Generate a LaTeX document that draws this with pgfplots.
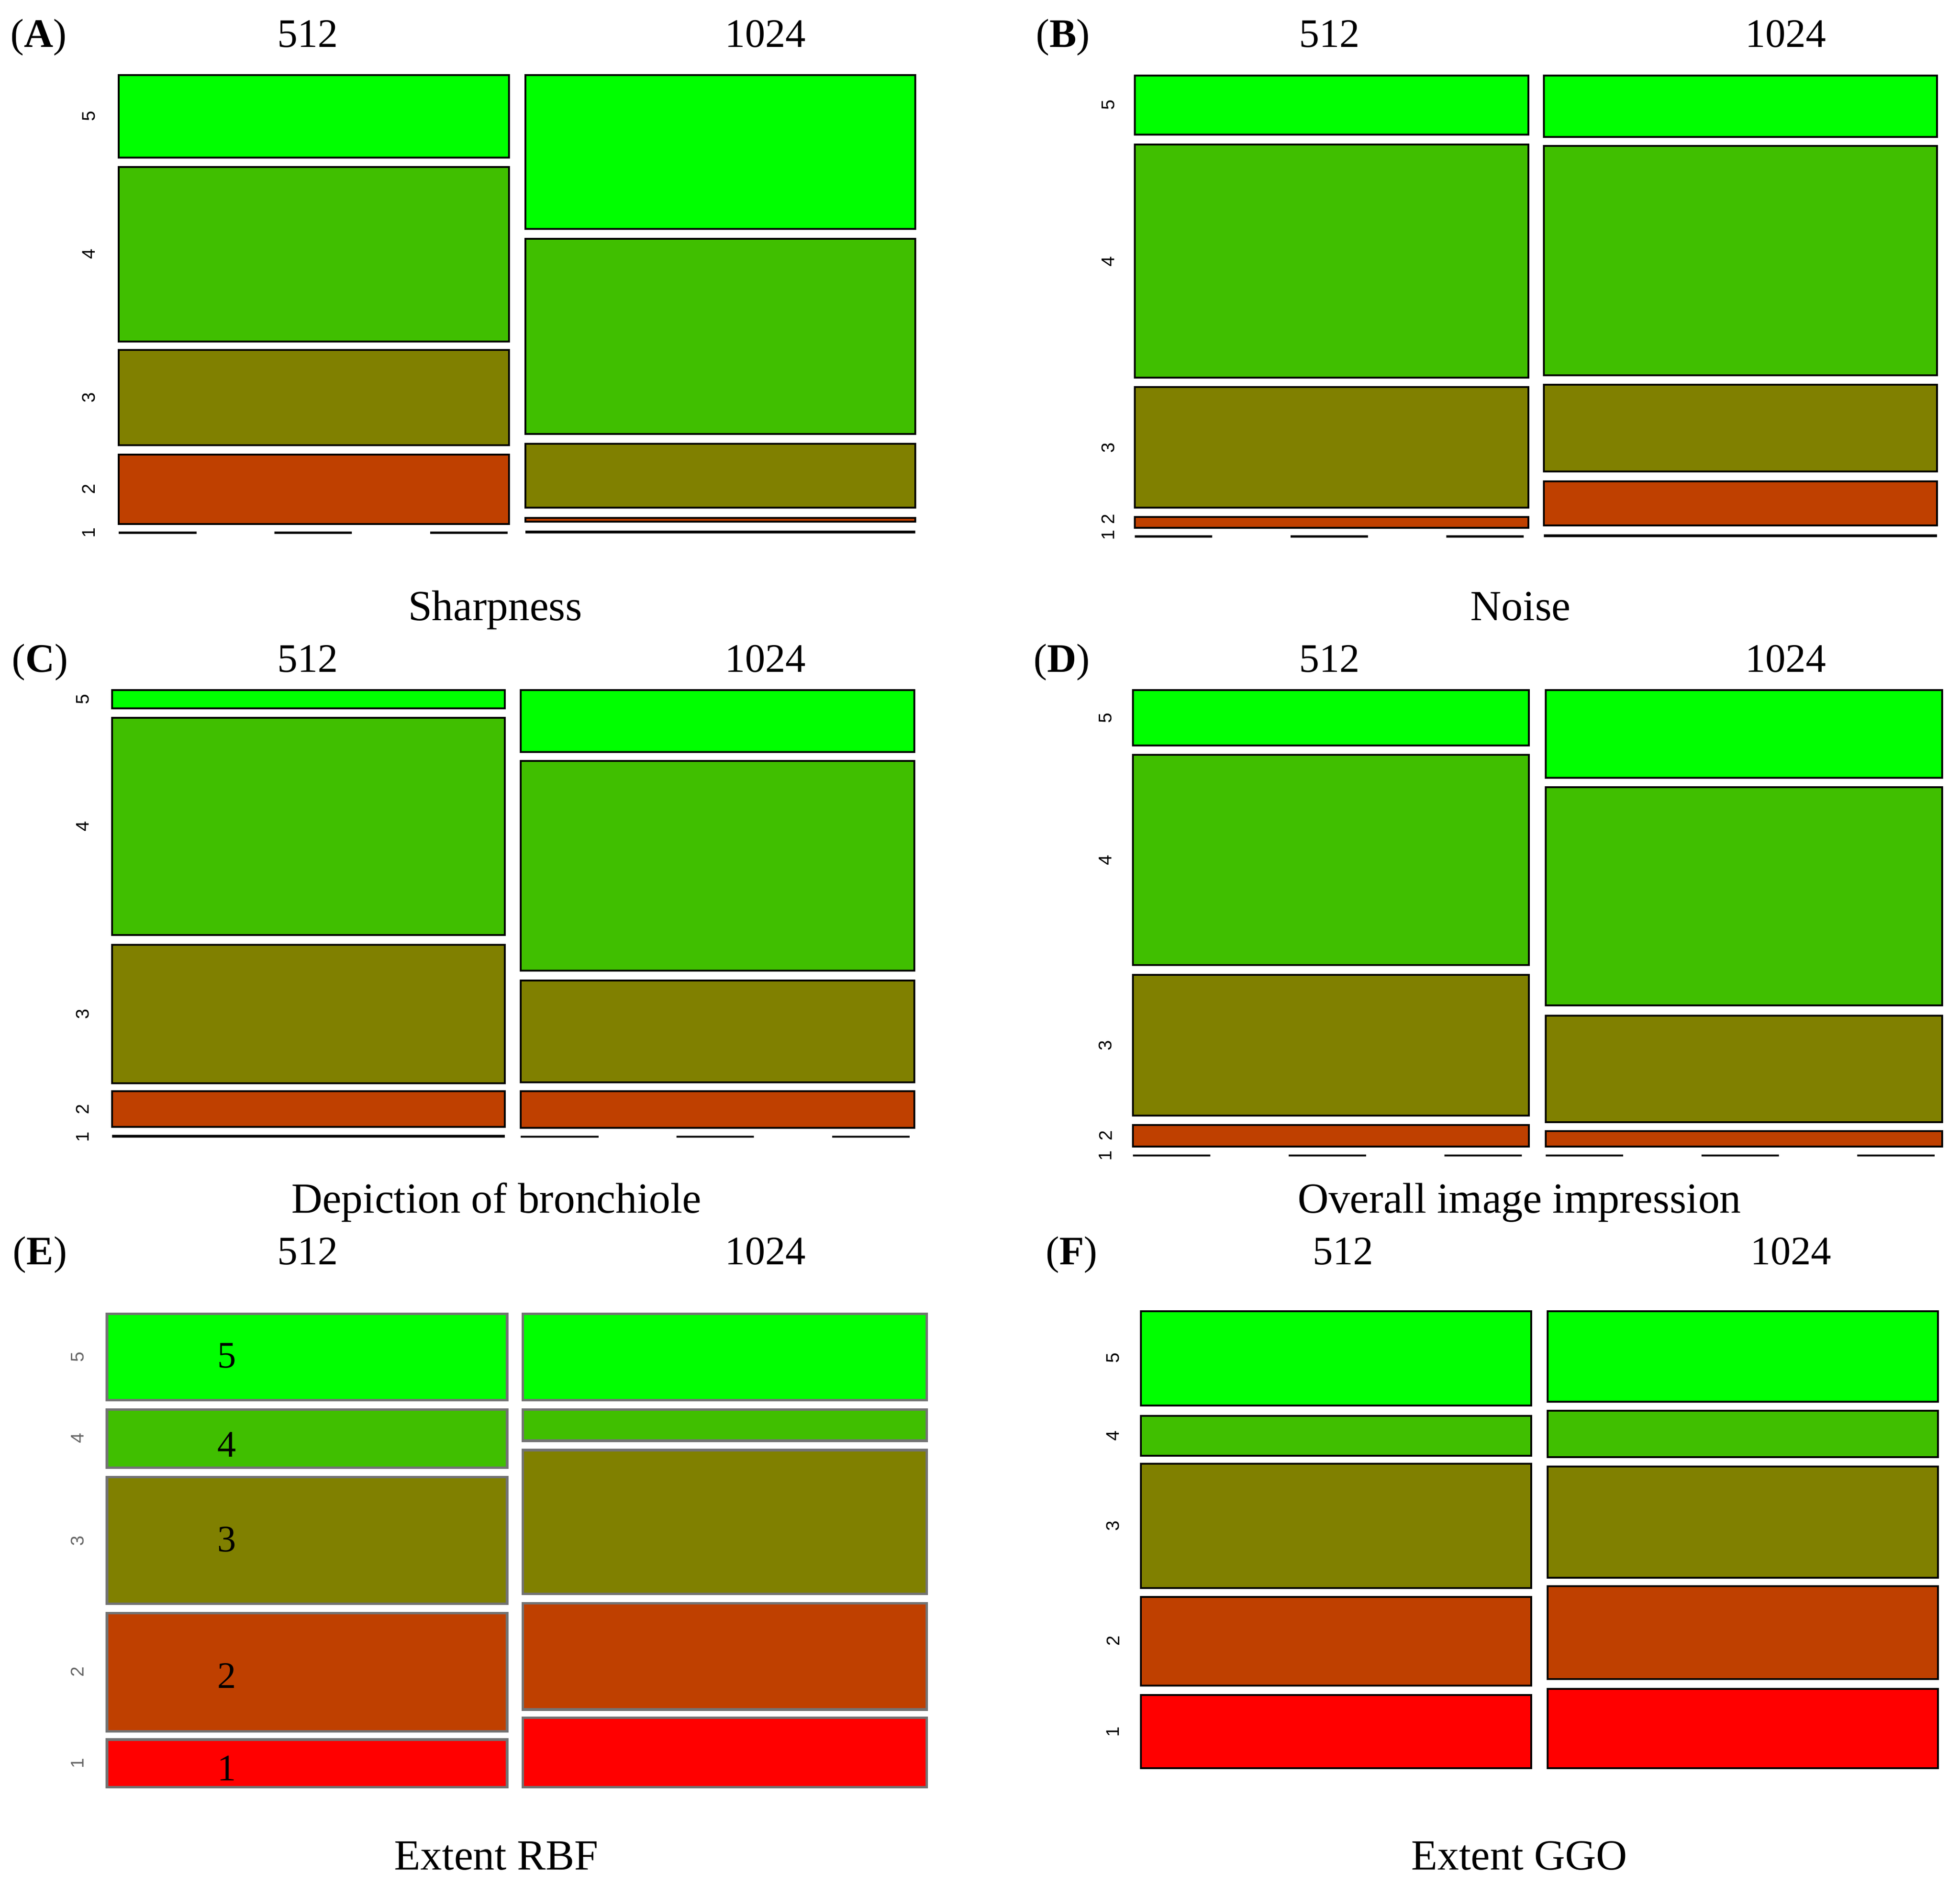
\documentclass[border=0pt]{standalone}
\usepackage{pgfplots}
\pgfplotsset{compat=1.18}
\usepackage{fontspec}
\setmainfont{Liberation Serif}
\newfontfamily\tickfont{Liberation Sans}

% mosaic colours (red -> green ramp)
\definecolor{c1}{RGB}{255,0,0}
\definecolor{c2}{RGB}{191,64,0}
\definecolor{c3}{RGB}{128,128,0}
\definecolor{c4}{RGB}{64,191,0}
\definecolor{c5}{RGB}{0,255,0}

% all coordinates are in picture pixels (1563 x 1503), 1 px = 0.3pt
\pgfplotsset{
  mosaic/.style={axis lines=none, ticks=none, x=0.3pt, y=0.3pt, y dir=reverse,
    clip=false, enlargelimits=false, anchor=north west},
}
% tile: x0 x1 ytop ybottom colour
\newcommand{\tile}[5]{\addplot[draw=black, line width=0.45pt, fill=#5] coordinates {(#1,#3) (#2,#3) (#2,#4) (#1,#4)} --cycle;}
\newcommand{\gtile}[5]{\addplot[draw=black!55, line width=0.6pt, fill=#5] coordinates {(#1,#3) (#2,#3) (#2,#4) (#1,#4)} --cycle;}
% empty cell (dashed) and nearly empty cell (solid)
\newcommand{\zline}[3]{\addplot[black, line width=0.5pt, dash pattern=on 18.6pt off 18.75pt] coordinates {(#1,#3) (#2,#3)};}
\newcommand{\sline}[3]{\addplot[black, line width=0.7pt] coordinates {(#1,#3) (#2,#3)};}
\newcommand{\ylab}[4][black]{\node[rotate=90, text=#1, inner sep=0pt, font=\tickfont\fontsize{4.4}{5}\selectfont] at (axis cs:#2,#3) {#4};}
\newcommand{\head}[3]{\node[anchor=base, inner sep=0pt, font=\fontsize{9.7}{11}\selectfont] at (axis cs:#1,#2) {#3};}
\newcommand{\ttl}[3]{\node[anchor=base, inner sep=0pt, font=\fontsize{10.3}{12}\selectfont] at (axis cs:#1,#2) {#3};}

\begin{document}
\begin{tikzpicture}
\useasboundingbox (0,0) rectangle (470.2pt,-452.1pt);

% (A) Sharpness
\begin{axis}[mosaic, at={(25.5pt,-16.5pt)}, xmin=85, xmax=740, ymin=55, ymax=435]
\tile{95}{407}{60}{126}{c5}
\tile{95}{407}{133.5}{273}{c4}
\tile{95}{407}{280}{356}{c3}
\tile{95}{407}{363.5}{419}{c2}
\zline{95}{407}{426}
\tile{420}{732}{60}{183}{c5}
\tile{420}{732}{191}{347}{c4}
\tile{420}{732}{355}{406}{c3}
\tile{420}{732}{414}{417}{c2}
\sline{420}{732}{425.5}
\ylab{71}{93}{5}\ylab{71}{203}{4}\ylab{71}{318}{3}\ylab{71}{391}{2}\ylab{71}{426}{1}
\node[anchor=base, inner sep=0pt, font=\fontsize{9.7}{11}\selectfont] at (axis cs:31,37.7) {(\textbf{A})};
\head{246}{37.7}{512}\head{612}{37.7}{1024}
\ttl{396}{496}{Sharpness}
\end{axis}

% (B) Noise
\begin{axis}[mosaic, at={(270pt,-16.5pt)}, xmin=900, xmax=1555, ymin=55, ymax=435]
\tile{907.5}{1222}{60.5}{107.5}{c5}
\tile{907.5}{1222}{115.5}{302}{c4}
\tile{907.5}{1222}{309.5}{406}{c3}
\tile{907.5}{1222}{413.5}{422}{c2}
\zline{907.5}{1222}{429}
\tile{1234.5}{1549}{60.5}{109.5}{c5}
\tile{1234.5}{1549}{116.5}{300}{c4}
\tile{1234.5}{1549}{307.5}{377}{c3}
\tile{1234.5}{1549}{385}{420}{c2}
\sline{1234.5}{1549}{428.5}
\ylab{886}{84}{5}\ylab{886}{209}{4}\ylab{886}{358}{3}\ylab{886}{415}{2}\ylab{886}{428}{1}
\node[anchor=base, inner sep=0pt, font=\fontsize{9.7}{11}\selectfont] at (axis cs:850,37.7) {(\textbf{B})};
\head{1063}{37.7}{512}\head{1428}{37.7}{1024}
\ttl{1216}{496}{Noise}
\end{axis}

% (C) Depiction of bronchiole
\begin{axis}[mosaic, at={(25.5pt,-163.5pt)}, xmin=85, xmax=740, ymin=545, ymax=915]
\tile{89.5}{403.5}{552}{566.5}{c5}
\tile{89.5}{403.5}{574}{747.5}{c4}
\tile{89.5}{403.5}{755.5}{866}{c3}
\tile{89.5}{403.5}{872.5}{901}{c2}
\sline{89.5}{403.5}{908.5}
\tile{416.5}{731}{552}{601.5}{c5}
\tile{416.5}{731}{608.5}{776}{c4}
\tile{416.5}{731}{784}{865.5}{c3}
\tile{416.5}{731}{872.5}{902}{c2}
\zline{416.5}{731}{909}
\ylab{66}{559}{5}\ylab{66}{661}{4}\ylab{66}{811}{3}\ylab{66}{887}{2}\ylab{66}{909}{1}
\node[anchor=base, inner sep=0pt, font=\fontsize{9.7}{11}\selectfont] at (axis cs:32,537.5) {(\textbf{C})};
\head{246}{537.5}{512}\head{612}{537.5}{1024}
\ttl{397}{970}{Depiction of bronchiole}
\end{axis}

% (D) Overall image impression
\begin{axis}[mosaic, at={(270pt,-163.5pt)}, xmin=900, xmax=1560, ymin=545, ymax=930]
\tile{906}{1222.5}{552}{596}{c5}
\tile{906}{1222.5}{603.5}{771.5}{c4}
\tile{906}{1222.5}{779.5}{892}{c3}
\tile{906}{1222.5}{899.5}{917}{c2}
\zline{906}{1222.5}{924}
\tile{1236}{1553}{552}{622}{c5}
\tile{1236}{1553}{629.5}{804}{c4}
\tile{1236}{1553}{812}{897.5}{c3}
\tile{1236}{1553}{904.5}{917}{c2}
\zline{1236}{1553}{924}
\ylab{884}{574}{5}\ylab{884}{688}{4}\ylab{884}{836}{3}\ylab{884}{908}{2}\ylab{884}{924}{1}
\node[anchor=base, inner sep=0pt, font=\fontsize{9.7}{11}\selectfont] at (axis cs:849,537.5) {(\textbf{D})};
\head{1063}{537.5}{512}\head{1428}{537.5}{1024}
\ttl{1215}{970}{Overall image impression}
\end{axis}

% (E) Extent RBF
\begin{axis}[mosaic, at={(24pt,-313.5pt)}, xmin=80, xmax=745, ymin=1045, ymax=1435]
\gtile{85.5}{405.5}{1050.5}{1119.5}{c5}
\gtile{85.5}{405.5}{1127}{1173.5}{c4}
\gtile{85.5}{405.5}{1181}{1282.5}{c3}
\gtile{85.5}{405.5}{1290}{1384.5}{c2}
\gtile{85.5}{405.5}{1391}{1429}{c1}
\gtile{418}{741}{1050.5}{1119.5}{c5}
\gtile{418}{741}{1127}{1152}{c4}
\gtile{418}{741}{1159.5}{1274.5}{c3}
\gtile{418}{741}{1282}{1367}{c2}
\gtile{418}{741}{1373.5}{1429}{c1}
\ylab[black!60]{62}{1085}{5}\ylab[black!60]{62}{1150}{4}\ylab[black!60]{62}{1232}{3}\ylab[black!60]{62}{1337}{2}\ylab[black!60]{62}{1410}{1}
\foreach \v/\yy in {5/1084, 4/1155, 3/1231, 2/1340, 1/1414}
  {\edef\tmp{\noexpand\node[inner sep=0pt, font=\noexpand\fontsize{9}{10}\noexpand\selectfont] at (axis cs:181.5,\yy) {\v};}\tmp}
\node[anchor=base, inner sep=0pt, font=\fontsize{9.7}{11}\selectfont] at (axis cs:32,1011) {(\textbf{E})};
\head{246}{1011}{512}\head{612}{1011}{1024}
\ttl{397}{1495}{Extent RBF}
\end{axis}

% (F) Extent GGO
\begin{axis}[mosaic, at={(270pt,-313.5pt)}, xmin=900, xmax=1555, ymin=1045, ymax=1420]
\tile{912.5}{1224.5}{1048.5}{1124}{c5}
\tile{912.5}{1224.5}{1132}{1164}{c4}
\tile{912.5}{1224.5}{1170.5}{1270}{c3}
\tile{912.5}{1224.5}{1277}{1348}{c2}
\tile{912.5}{1224.5}{1355.5}{1414}{c1}
\tile{1237.5}{1549.5}{1048.5}{1121}{c5}
\tile{1237.5}{1549.5}{1128}{1165}{c4}
\tile{1237.5}{1549.5}{1172.5}{1261.5}{c3}
\tile{1237.5}{1549.5}{1268.5}{1342.5}{c2}
\tile{1237.5}{1549.5}{1350.5}{1414}{c1}
\ylab{890}{1086}{5}\ylab{890}{1148}{4}\ylab{890}{1220}{3}\ylab{890}{1312}{2}\ylab{890}{1385}{1}
\node[anchor=base, inner sep=0pt, font=\fontsize{9.7}{11}\selectfont] at (axis cs:857,1011) {(\textbf{F})};
\head{1074}{1011}{512}\head{1432}{1011}{1024}
\ttl{1215}{1495}{Extent GGO}
\end{axis}
\end{tikzpicture}
\end{document}
